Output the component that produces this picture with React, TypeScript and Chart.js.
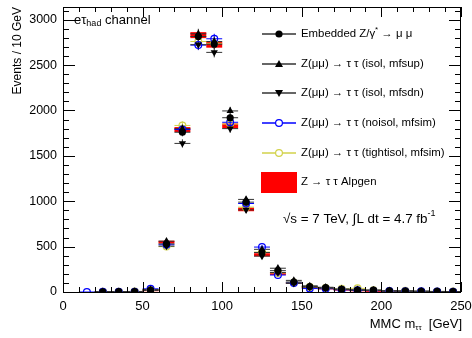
import React, { useEffect, useRef } from 'react';
import { Chart, registerables } from 'chart.js';
Chart.register(...registerables);

// ---- data (bin centres in GeV, 10 GeV bins) ----
const binCenters = [15, 25, 35, 45, 55, 65, 75, 85, 95, 105, 115, 125, 135, 145, 155, 165, 175, 185, 195, 205, 215, 225, 235, 245];
const embedded = [null, 3, 4, 5, 22, 530, 1760, 2815, 2730, 1920, 990, 435, 235, 110, 60, 48, 30, 22, 20, 12, 10, 8, 6, 5];
const mfsup = [null, 3, 4, 6, 26, 560, 1800, 2845, 2760, 1995, 1020, 470, 262, 128, 68, 52, 33, 24, 21, 13, 10, 8, 6, 5];
const mfsdn = [null, 2, 3, 4, 18, 505, 1637, 2725, 2640, 1800, 905, 395, 215, 95, 53, 42, 27, 20, 17, 11, 9, 7, 5, 4];
const noisol = [0, 2, 3, 4, 35, 520, 1790, 2720, 2790, 1870, 975, 495, 187, 100, 38, 36, 24, 18, 15, 10, 8, 7, 5, 4];
const tightisol = [null, 4, 3, 5, 25, 500, 1835, 2760, 2740, 1850, 935, 440, 210, 105, 55, 45, 35, 40, 20, 12, 15, 8, 6, 5];
const alpgen = [null, 2, 4, 6, 20, 550, 1790, 2830, 2725, 1830, 910, 410, 200, 100, 55, 40, 28, 20, 15, 10, 8, 6, 5, 4];
const alpgenErr = [0, 2, 2, 2, 5, 15, 27, 33, 33, 27, 20, 17, 12, 8, 6, 5, 4, 4, 3, 3, 2, 2, 2, 2];
const pointErr = [0, 2, 2, 2, 5, 25, 45, 55, 55, 45, 33, 22, 16, 11, 8, 7, 6, 5, 4, 4, 3, 3, 3, 2];
const BIN_HALF = 5;

const xTicks = [0, 50, 100, 150, 200, 250];
const yTicks = [0, 500, 1000, 1500, 2000, 2500, 3000];
const xMinorStep = 10;
const yMinorStep = 100;
const X_MIN = 0, X_MAX = 250, Y_MIN = 0, Y_MAX = 3140;

const legendLabels = [
  'Embedded Z/γ* → μ μ',
  'Z(μμ) → τ τ (isol, mfsup)',
  'Z(μμ) → τ τ (isol, mfsdn)',
  'Z(μμ) → τ τ (noisol, mfsim)',
  'Z(μμ) → τ τ (tightisol, mfsim)',
  'Z → τ τ Alpgen',
];

const FONT = '"Liberation Sans", Arial, Helvetica, sans-serif';
const YELLOW = '#d2d24a';
const BLUE = '#0000ff';
const RED = '#ff0000';
const BAR_BLACK = '#333';

function drawMarker(ctx: CanvasRenderingContext2D, style: string, x: number, y: number, color: string) {
  ctx.save();
  ctx.lineWidth = 1.2;
  ctx.strokeStyle = color;
  ctx.fillStyle = color;
  ctx.beginPath();
  if (style === 'dot') {
    ctx.arc(x, y, 3.6, 0, Math.PI * 2);
    ctx.fill();
  } else if (style === 'up') {
    ctx.moveTo(x, y - 4); ctx.lineTo(x + 4, y + 3); ctx.lineTo(x - 4, y + 3); ctx.closePath(); ctx.fill();
  } else if (style === 'down') {
    ctx.moveTo(x, y + 4); ctx.lineTo(x + 4, y - 3); ctx.lineTo(x - 4, y - 3); ctx.closePath(); ctx.fill();
  } else if (style === 'open') {
    ctx.arc(x, y, 3.4, 0, Math.PI * 2);
    ctx.fillStyle = '#fff';
    ctx.fill();
    ctx.stroke();
  }
  ctx.restore();
}

// draw a sequence of [text, size, dy] pieces from x,y; returns end x
function drawPieces(ctx: CanvasRenderingContext2D, pieces: [string, number, number][], x: number, y: number, measureOnly = false) {
  let cx = x;
  for (const [t, s, dy] of pieces) {
    ctx.font = `${s}px ${FONT}`;
    if (!measureOnly) ctx.fillText(t, cx, y + dy);
    cx += ctx.measureText(t).width;
  }
  return cx;
}

const rootPlugin = {
  id: 'rootStyle',
  beforeDatasetsDraw(chart: any) {
    const { ctx, chartArea } = chart;
    const xs = chart.scales.x, ys = chart.scales.y;
    ctx.save();
    ctx.beginPath();
    ctx.rect(chartArea.left, chartArea.top, chartArea.width, chartArea.height);
    ctx.clip();
    // Alpgen: red error boxes
    ctx.fillStyle = RED;
    alpgen.forEach((v, i) => {
      if (v == null) return;
      const c = binCenters[i], e = alpgenErr[i];
      const x0 = xs.getPixelForValue(c - BIN_HALF), x1 = xs.getPixelForValue(c + BIN_HALF);
      const y0 = ys.getPixelForValue(v + e), y1 = ys.getPixelForValue(v - e);
      ctx.fillRect(x0, y0, x1 - x0, Math.max(y1 - y0, 1.5));
    });
    // error bars for point series
    const dsets = chart.data.datasets;
    for (let d = dsets.length - 1; d >= 0; d--) {
      const ds = dsets[d];
      ctx.strokeStyle = ds.errColor;
      ctx.lineWidth = 1;
      ds.data.forEach((p: any) => {
        const idx = binCenters.indexOf(p.x);
        const e = pointErr[idx];
        const px = xs.getPixelForValue(p.x), py = ys.getPixelForValue(p.y);
        ctx.beginPath();
        ctx.moveTo(xs.getPixelForValue(p.x - BIN_HALF), py);
        ctx.lineTo(xs.getPixelForValue(p.x + BIN_HALF), py);
        ctx.moveTo(px, ys.getPixelForValue(p.y + e));
        ctx.lineTo(px, ys.getPixelForValue(p.y - e));
        ctx.stroke();
      });
    }
    ctx.restore();
  },
  afterDraw(chart: any) {
    const { ctx, chartArea } = chart;
    const xs = chart.scales.x, ys = chart.scales.y;
    const { left, right, top, bottom } = chartArea;
    ctx.save();
    ctx.strokeStyle = '#000';
    ctx.lineWidth = 1;
    ctx.strokeRect(Math.round(left) + 0.5, Math.round(top) + 0.5, Math.round(right - left) - 1, Math.round(bottom - top));
    // x ticks (bottom & top)
    ctx.beginPath();
    for (let v = X_MIN; v <= X_MAX + 0.001; v += xMinorStep) {
      const px = Math.round(xs.getPixelForValue(v)) + 0.5;
      const len = xTicks.includes(v) ? 10 : 5;
      ctx.moveTo(px, bottom); ctx.lineTo(px, bottom - len);
      ctx.moveTo(px, top); ctx.lineTo(px, top + len);
    }
    for (let v = Y_MIN; v <= Y_MAX; v += yMinorStep) {
      const py = Math.round(ys.getPixelForValue(v)) + 0.5;
      const len = yTicks.includes(v) ? 12 : 6;
      ctx.moveTo(left, py); ctx.lineTo(left + len, py);
      ctx.moveTo(right, py); ctx.lineTo(right - len, py);
    }
    ctx.stroke();

    // legend
    const entries = [
      { y: 34, m: 'dot', c: '#000' },
      { y: 64, m: 'up', c: '#000' },
      { y: 93, m: 'down', c: '#000' },
      { y: 123, m: 'open', c: BLUE },
      { y: 153, m: 'open', c: YELLOW },
      { y: 182, m: 'box', c: RED },
    ];
    ctx.fillStyle = '#000';
    ctx.textBaseline = 'middle';
    ctx.textAlign = 'left';
    const LS = 11.4;
    entries.forEach((e, i) => {
      if (e.m === 'box') {
        ctx.fillStyle = RED;
        ctx.fillRect(261, e.y - 10, 36, 21);
      } else {
        ctx.strokeStyle = e.c === '#000' ? BAR_BLACK : e.c;
        ctx.lineWidth = 1.3;
        ctx.beginPath();
        ctx.moveTo(262, e.y); ctx.lineTo(296, e.y);
        ctx.stroke();
        drawMarker(ctx, e.m, 279, e.y, e.c);
      }
      ctx.fillStyle = '#000';
      const lab = legendLabels[i];
      if (i === 0) {
        const star = lab.indexOf('*');
        drawPieces(ctx, [[lab.slice(0, star), LS, 0], ['*', 8, -4], [lab.slice(star + 1), LS, 0]], 301, e.y);
      } else {
        ctx.font = `${LS}px ${FONT}`;
        ctx.fillText(lab, 301, e.y);
      }
    });

    // sqrt(s) text
    ctx.fillStyle = '#000';
    drawPieces(ctx, [['√s = 7 TeV, ∫L dt = 4.7 fb', 13.4, 0], ['-1', 9, -5]], 283, 219);

    // channel label
    drawPieces(ctx, [['eτ', 13, 0], ['had', 9, 4], [' channel', 13, 0]], 74, 20);

    // y title
    ctx.save();
    ctx.translate(18, 7);
    ctx.rotate(-Math.PI / 2);
    ctx.textAlign = 'right';
    ctx.font = `12px ${FONT}`;
    ctx.fillText('Events / 10 GeV', 0, 0);
    ctx.restore();

    // x title, right aligned at 462
    const xPieces: [string, number, number][] = [['MMC m', 13, 0], ['ττ', 8, 4], ['  [GeV]', 13, 0]];
    const w = drawPieces(ctx, xPieces, 0, 0, true);
    drawPieces(ctx, xPieces, 462 - w, 324);
    ctx.restore();
  },
};

export default function App() {
  const ref = useRef<HTMLCanvasElement>(null);
  useEffect(() => {
    document.body.style.margin = '0';
    const canvas = ref.current!;
    const mk = (arr: (number | null)[]) =>
      binCenters.map((c, i) => ({ x: c, y: arr[i] })).filter((p) => p.y != null);
    const chart = new Chart(canvas, {
      type: 'scatter',
      data: {
        datasets: [
          { label: legendLabels[0], data: mk(embedded), pointStyle: 'circle', pointRadius: 3.6, backgroundColor: '#000', borderColor: '#000', borderWidth: 0, errColor: BAR_BLACK } as any,
          { label: legendLabels[1], data: mk(mfsup), pointStyle: 'triangle', pointRadius: 4.2, backgroundColor: '#000', borderColor: '#000', borderWidth: 0, errColor: BAR_BLACK } as any,
          { label: legendLabels[2], data: mk(mfsdn), pointStyle: 'triangle', rotation: 180, pointRadius: 4.2, backgroundColor: '#000', borderColor: '#000', borderWidth: 0, errColor: BAR_BLACK } as any,
          { label: legendLabels[3], data: mk(noisol), pointStyle: 'circle', pointRadius: 3.4, backgroundColor: 'rgba(255,255,255,0)', borderColor: BLUE, borderWidth: 1.2, errColor: BLUE } as any,
          { label: legendLabels[4], data: mk(tightisol), pointStyle: 'circle', pointRadius: 3.4, backgroundColor: 'rgba(255,255,255,0)', borderColor: YELLOW, borderWidth: 1.2, errColor: YELLOW } as any,
        ],
      },
      options: {
        responsive: false,
        animation: false,
        events: [],
        layout: { padding: { left: 0, right: 11, top: 7, bottom: 0 } },
        plugins: { legend: { display: false }, tooltip: { enabled: false } },
        scales: {
          x: {
            type: 'linear', min: X_MIN, max: X_MAX,
            grid: { display: false, drawTicks: false }, border: { display: false },
            ticks: { font: { family: FONT, size: 13 }, color: '#000', padding: 7, maxRotation: 0, autoSkip: false, callback: (v: any) => String(v) },
            afterBuildTicks: (s: any) => { s.ticks = xTicks.map((v) => ({ value: v })); },
            afterFit: (s: any) => { s.height = 46; s.paddingLeft = 0; s.paddingRight = 0; },
          },
          y: {
            type: 'linear', min: Y_MIN, max: Y_MAX,
            grid: { display: false, drawTicks: false }, border: { display: false },
            ticks: { font: { family: FONT, size: 12.5 }, color: '#000', padding: 6, autoSkip: false, callback: (v: any) => String(v) },
            afterBuildTicks: (s: any) => { s.ticks = yTicks.map((v) => ({ value: v })); },
            afterFit: (s: any) => { s.width = 63; s.paddingTop = 0; s.paddingBottom = 0; },
          },
        },
      } as any,
      plugins: [rootPlugin],
    });
    return () => chart.destroy();
  }, []);
  return <canvas ref={ref} width={472} height={338} style={{ display: 'block' }} />;
}
